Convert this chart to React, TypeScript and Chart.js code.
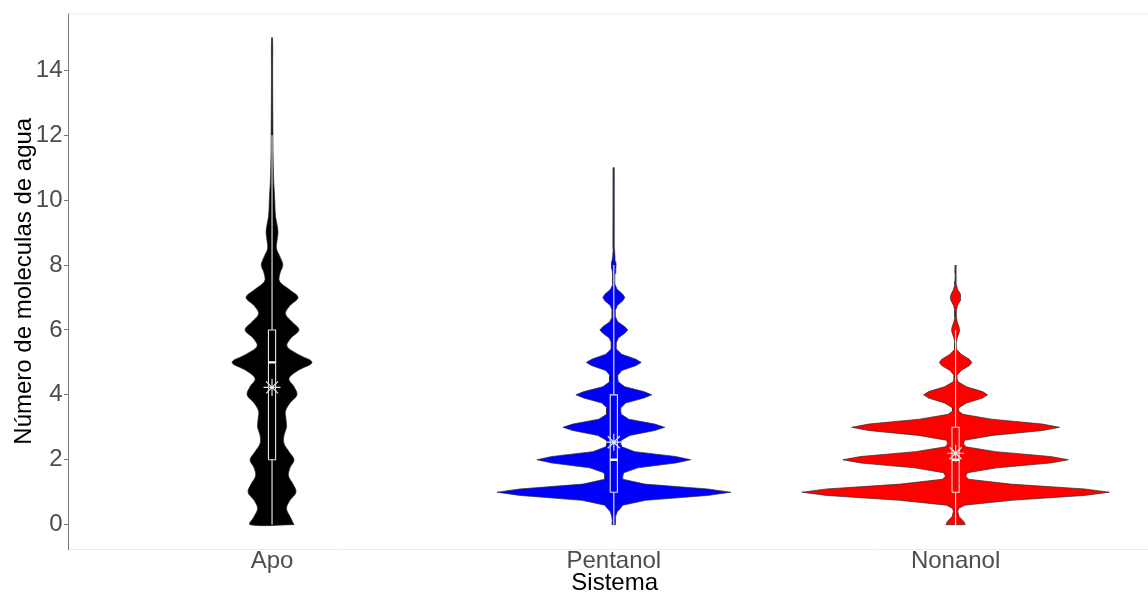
import { useEffect, useRef } from "react";
import { Chart, registerables } from "chart.js";

Chart.register(...registerables);

// ---------- data ----------
const categories = ["Apo", "Pentanol", "Nonanol"];
const fillColors = ["#000000", "#0000ff", "#ff0000"];
const yTicks = [0, 2, 4, 6, 8, 10, 12, 14];

// violin outlines: y level and (relative) kernel density
const apoY = [
  0, 0.25, 0.5, 0.75, 1, 1.25, 1.5, 1.75, 2, 2.25, 2.5, 2.75, 3, 3.25, 3.5, 3.75,
  4, 4.25, 4.5, 4.75, 5, 5.25, 5.5, 5.75, 6, 6.25, 6.5, 6.75, 7, 7.25, 7.5, 7.75,
  8, 8.25, 8.5, 8.75, 9, 9.25, 9.5, 9.75, 10, 10.25, 10.5, 11, 11.5, 12, 13, 14, 15,
];
const apoDensity = [
  22, 18, 14.5, 18, 24, 21, 16.5, 18, 22, 17, 12, 12, 14.5, 14, 13.5, 18,
  25, 22, 17, 26, 40, 26, 15, 19, 27, 20, 13.5, 18, 26, 17, 7.5, 8,
  10.8, 8, 4.5, 5, 6, 5, 3.5, 3, 2.7, 2.3, 1.8, 1.3, 1, 0.9, 0.7, 0.6, 0.5,
];

const pentanolY = [
  0, 0.1, 0.25, 0.4, 0.5, 0.6, 0.75, 0.9,
  1, 1.1, 1.25, 1.4, 1.5, 1.6, 1.75, 1.9,
  2, 2.1, 2.25, 2.4, 2.5, 2.6, 2.75, 2.9,
  3, 3.1, 3.25, 3.4, 3.5, 3.6, 3.75, 3.9,
  4, 4.1, 4.25, 4.4, 4.5, 4.6, 4.75, 4.9,
  5, 5.1, 5.25, 5.4, 5.5, 5.6, 5.75, 5.9,
  6, 6.1, 6.25, 6.4, 6.5, 6.6, 6.75, 6.9,
  7, 7.1, 7.25, 7.4, 7.5, 7.6, 7.75, 7.9,
  8, 8.1, 8.25, 8.5, 9, 10, 11,
];
const pentanolDensity = [
  1.5, 1.5, 2, 3.5, 6.5, 9, 32, 94,
  117, 94, 31, 9, 9, 10, 24, 62,
  77, 62, 21, 8, 7, 7.5, 16, 41,
  51, 41, 15, 7.5, 7, 7, 12, 30,
  38, 30, 11, 4.5, 4, 4, 8, 22,
  27.5, 22, 8, 3, 2.5, 2.5, 4.5, 11,
  14, 11, 4, 1.8, 1.5, 1.6, 3.5, 9,
  11, 9, 3.3, 1.2, 1, 1, 1.2, 2,
  2.3, 2, 1.2, 0.7, 0.6, 0.5, 0.3,
];

const nonanolY = [
  0, 0.1, 0.25, 0.4, 0.5, 0.6, 0.75, 0.9,
  1, 1.1, 1.25, 1.4, 1.5, 1.6, 1.75, 1.9,
  2, 2.1, 2.25, 2.4, 2.5, 2.6, 2.75, 2.9,
  3, 3.1, 3.25, 3.4, 3.5, 3.6, 3.75, 3.9,
  4, 4.1, 4.25, 4.4, 4.5, 4.6, 4.75, 4.9,
  5, 5.1, 5.25, 5.4, 5.5, 5.6, 5.75, 5.9,
  6, 6.1, 6.25, 6.4, 6.5, 6.6, 6.75, 6.9,
  7, 7.1, 7.25, 7.4, 7.5, 7.75, 8,
];
const nonanolDensity = [
  9.7, 8.2, 3.5, 2.2, 3, 9, 56, 129,
  154, 129, 55, 13, 10, 12, 41, 95,
  113, 95, 40, 10, 8, 9, 37, 87,
  104, 87, 36, 7.5, 3, 3.2, 11, 27,
  32, 27, 11, 2.5, 1.5, 1.5, 5.5, 13.7,
  16.3, 13.7, 5.5, 1.3, 0.8, 0.8, 1.6, 3.4,
  4, 3.4, 1.6, 0.8, 0.7, 0.8, 2, 4.5,
  5.3, 4.5, 2, 0.8, 0.6, 0.5, 0.4,
];

// box plot statistics
const whiskerLow = [0, 0, 0];
const q1 = [2, 1, 1];
const medians = [5, 2, 2];
const q3 = [6, 4, 3];
const whiskerHigh = [12, 8, 6];
const means = [4.23, 2.54, 2.2];

// ---------- component ----------
export default function App() {
  const ref = useRef<HTMLCanvasElement>(null);

  useEffect(() => {
    if (!ref.current) return;
    const FONT = '"Liberation Sans", Arial, Helvetica, sans-serif';
    const DENSITY_TO_X = 0.45 / 154; // widest violin half-width = 0.45 category
    const BOX = 0.0105;
    const shapes: [number[], number[]][] = [
      [apoY, apoDensity],
      [pentanolY, pentanolDensity],
      [nonanolY, nonanolDensity],
    ];
    const datasets: any[] = [];

    datasets.push({
      label: "mean",
      data: means.map((m, i) => ({ x: i + 1, y: m })),
      showLine: false,
      pointStyle: "star",
      pointRadius: 8.5,
      pointBorderWidth: 1.2,
      pointBorderColor: "#e2eaea",
      pointBackgroundColor: "rgba(0,0,0,0)",
      order: 0,
    });

    categories.forEach((_, i) => {
      const c = i + 1;
      const line = { showLine: true, pointRadius: 0, fill: false, tension: 0, order: 1 };
      datasets.push({
        ...line,
        label: "median",
        data: [{ x: c - BOX, y: medians[i] }, { x: c + BOX, y: medians[i] }],
        borderColor: "#ffffff",
        borderWidth: 2.4,
      });
      datasets.push({
        ...line,
        label: "box",
        data: [
          { x: c - BOX, y: q1[i] },
          { x: c + BOX, y: q1[i] },
          { x: c + BOX, y: q3[i] },
          { x: c - BOX, y: q3[i] },
          { x: c - BOX, y: q1[i] },
        ],
        borderColor: "#e6e6e6",
        borderWidth: 1.1,
      });
      datasets.push({
        ...line,
        label: "whisker-low",
        data: [{ x: c, y: whiskerLow[i] }, { x: c, y: q1[i] }],
        borderColor: "#f2f2f2",
        borderWidth: 1.1,
      });
      datasets.push({
        ...line,
        label: "whisker-high",
        data: [{ x: c, y: q3[i] }, { x: c, y: whiskerHigh[i] }],
        borderColor: "#f2f2f2",
        borderWidth: 1.1,
      });
    });

    shapes.forEach(([ys, dens], i) => {
      const c = i + 1;
      const right = ys.map((y, k) => ({ x: c + dens[k] * DENSITY_TO_X, y }));
      const left = ys.map((y, k) => ({ x: c - dens[k] * DENSITY_TO_X, y })).reverse();
      datasets.push({
        label: categories[i],
        data: [...right, ...left, right[0]],
        showLine: true,
        pointRadius: 0,
        fill: "shape",
        backgroundColor: fillColors[i],
        borderColor: "#2b2b2b",
        borderWidth: 0.7,
        tension: i === 0 ? 0.35 : 0,
        order: 2,
      });
    });

    const topLine = {
      id: "topLine",
      afterDraw(chart: any) {
        const { ctx, chartArea } = chart;
        ctx.save();
        ctx.strokeStyle = "#ebebeb";
        ctx.lineWidth = 1;
        ctx.beginPath();
        ctx.moveTo(chartArea.left, chartArea.top + 0.5);
        ctx.lineTo(chartArea.right, chartArea.top + 0.5);
        ctx.stroke();
        ctx.restore();
      },
    };

    const chart = new Chart(ref.current, {
      type: "scatter",
      data: { datasets },
      plugins: [topLine],
      options: {
        animation: false,
        responsive: false,
        events: [],
        layout: { autoPadding: false, padding: { top: 12, right: 0, left: 0, bottom: 0 } },
        plugins: { legend: { display: false }, tooltip: { enabled: false } },
        scales: {
          x: {
            type: "linear",
            min: 0.403,
            max: 3.563,
            afterBuildTicks: (s: any) => {
              s.ticks = categories.map((_, i) => ({ value: i + 1 }));
            },
            afterFit: (s: any) => {
              s.height = 46;
            },
            ticks: {
              callback: (v: any) => categories[Math.round(Number(v)) - 1] ?? "",
              font: { family: FONT, size: 24, lineHeight: 1 },
              color: "#4d4d4d",
              padding: 0,
              autoSkip: false,
              maxRotation: 0,
            },
            grid: { display: false, drawTicks: false },
            border: { display: true, color: "#ebebeb", width: 1 },
            title: {
              display: true,
              text: "  Sistema",
              color: "#000000",
              font: { family: FONT, size: 24, lineHeight: 1 },
              padding: 0,
            },
          },
          y: {
            type: "linear",
            min: -0.75,
            max: 15.75,
            afterBuildTicks: (s: any) => {
              s.ticks = yTicks.map((v) => ({ value: v }));
            },
            afterFit: (s: any) => {
              s.width = 68;
            },
            ticks: {
              font: { family: FONT, size: 24, lineHeight: 1 },
              color: "#4d4d4d",
              padding: 1.5,
            },
            grid: {
              display: true,
              drawOnChartArea: false,
              drawTicks: true,
              tickLength: 4,
              color: "#777777",
            },
            border: { display: true, color: "#777777", width: 1 },
            title: {
              display: true,
              text: "Número de moleculas de agua",
              color: "#000000",
              font: { family: FONT, size: 24, lineHeight: 1 },
              padding: { top: 12.6, bottom: 0 },
            },
          },
        },
      } as any,
    });

    return () => chart.destroy();
  }, []);

  return (
    <div style={{ position: "absolute", left: 0, top: 0, width: 1148, height: 595, background: "#fff" }}>
      <canvas ref={ref} width={1148} height={595} style={{ display: "block" }} />
    </div>
  );
}
